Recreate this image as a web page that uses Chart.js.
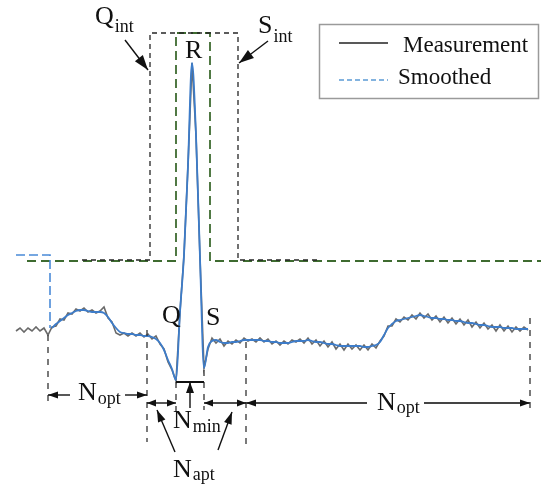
<!DOCTYPE html>
<html><head><meta charset="utf-8">
<script src="https://cdn.jsdelivr.net/npm/chart.js@4.4.1/dist/chart.umd.min.js"></script>
<style>html,body{margin:0;padding:0;background:#fff;}#wrap{width:541px;height:487px;}</style>
</head><body><div id="wrap"><canvas id="c" width="541" height="487"></canvas></div>
<script>
// ---- data (time in samples, amplitude in a.u.) ----
const sampleStart = 16;
const sampleStep = 4;
const measurement = [
  9, 12, 8, 12, 9, 13, 9, 12, 5, 13,
  14, 21, 20, 27, 26, 31, 29, 32, 28, 30,
  27, 29, 33, 22, 18, 7, 5, 7, 4, 7,
  4, 7, 3, 6, 1, 4, -4, -9, -22, -30,
  -41, 28, 85, 175, 277, 205, 82, -28, -9, 2,
  -3, 1, -6, -1, -4, 0, -3, 2, -1, 1,
  -2, 2, -2, 1, -4, -1, -5, -1, -4, 0,
  -2, 1, -3, 2, -4, 0, -6, -1, -7, -2,
  -9, -4, -10, -4, -9, -5, -10, -5, -10, -4,
  -8, -1, 4, 14, 14, 21, 18, 23, 20, 25,
  21, 27, 22, 26, 20, 24, 18, 23, 17, 22,
  16, 21, 15, 20, 13, 18, 12, 17, 11, 15,
  9, 15, 9, 14, 8, 13, 9, 13, 10
];
const smoothed = [
  null, null, null, null, null, null, null, null, null, 12,
  16, 19, 22, 25, 27, 29, 30, 30, 29, 28,
  28, 28, 27, 23, 17, 12, 8, 7, 6, 6,
  5, 5, 4, 4, 3, 1, -3, -10, -20, -29,
  -40, 28, 85, 175, 277, 205, 82, -28, -7, -1,
  0, -2, -3, -3, -2, -2, -1, 0, 0, 0,
  0, 0, -1, -1, -2, -2, -3, -3, -3, -2,
  -1, -1, -1, 0, -1, -2, -2, -3, -4, -4,
  -5, -6, -6, -6, -6, -6, -6, -7, -7, -6,
  -5, -2, 5, 12, 16, 19, 20, 21, 22, 23,
  24, 25, 24, 23, 22, 22, 21, 21, 20, 20,
  19, 19, 18, 17, 17, 16, 15, 15, 14, 13,
  13, 13, 12, 12, 12, 11, 11, 11, 11
];
const smoothedInitTimes = [16, 50, 50];
const smoothedInitValues = [85, 85, 12];
const qsWindowTimes = [82, 150, 150, 238, 238, 320];
const qsWindowValues = [80, 80, 307, 307, 80, 80];
const rWindowTimes = [27, 176, 176, 210, 210, 541];
const rWindowValues = [79, 79, 307, 307, 79, 79];
const seriesLabels = ['Measurement', 'Smoothed'];

// ---- build points ----
const sampleTimes = measurement.map((_, i) => sampleStart + i * sampleStep);
const pts = (ts, vs) => ts.map((t, i) => ({x: t, y: vs[i]}));

// ---- annotation layout (data coords: time, amplitude) ----
const annot = {
  markers: [[48, 5, -62], [147, 10, -102], [176, -42, -75], [204, -30, -70], [246, -2, -107], [530, 22, -70]],
  minBar: [176, 204, -42],
  arrows: [
    {from: [125, 300], to: [148, 270], len: 15, wid: 10},
    {from: [268, 299], to: [239, 277], len: 15, wid: 10},
    {from: [190, -68], to: [190, -42], len: 11, wid: 8},
    {from: [70, -55], to: [48, -55], len: 10, wid: 7},
    {from: [125, -55], to: [147, -55], len: 10, wid: 7},
    {from: [147, -63], to: [176, -63], len: 9, wid: 7, both: true},
    {from: [204, -63], to: [246, -63], len: 9, wid: 7, both: true},
    {from: [367, -63], to: [246, -63], len: 10, wid: 7, color: '#444', width: 2},
    {from: [424, -63], to: [530, -63], len: 10, wid: 7, color: '#444', width: 2},
    {from: [175, -112], to: [157, -70], len: 12, wid: 8},
    {from: [218, -110], to: [232, -72], len: 12, wid: 8}
  ],
  labels: [
    {main: 'Q', sub: 'int', t: 95, a: 316, sa: 308},
    {main: 'S', sub: 'int', t: 258, a: 307, sa: 298},
    {main: 'R', sub: '', t: 185, a: 282, sa: 282},
    {main: 'Q', sub: '', t: 162, a: 17, sa: 17},
    {main: 'S', sub: '', t: 206, a: 15, sa: 15},
    {main: 'N', sub: 'opt', t: 78, a: -60, sa: -64},
    {main: 'N', sub: 'opt', t: 377, a: -70, sa: -73},
    {main: 'N', sub: 'min', t: 173, a: -88, sa: -92},
    {main: 'N', sub: 'apt', t: 173, a: -137, sa: -140}
  ]
};

const FONT = '"Liberation Serif", "Times New Roman", serif';

function head(ctx, x1, y1, x2, y2, len, wid) {
  const ang = Math.atan2(y2 - y1, x2 - x1);
  const c = Math.cos(ang), s = Math.sin(ang);
  ctx.beginPath();
  ctx.moveTo(x2, y2);
  ctx.lineTo(x2 - len * c + wid / 2 * s, y2 - len * s - wid / 2 * c);
  ctx.lineTo(x2 - len * c - wid / 2 * s, y2 - len * s + wid / 2 * c);
  ctx.closePath();
  ctx.fill();
}

const annotPlugin = {
  id: 'annot',
  afterDatasetsDraw(chart) {
    const ctx = chart.ctx, xs = chart.scales.x, ys = chart.scales.y;
    const px = t => xs.getPixelForValue(t), py = a => ys.getPixelForValue(a);
    ctx.save();
    ctx.strokeStyle = '#333'; ctx.lineWidth = 1.3; ctx.setLineDash([6, 6]);
    annot.markers.forEach(([t, a1, a2]) => {
      ctx.beginPath(); ctx.moveTo(px(t), py(a1)); ctx.lineTo(px(t), py(a2)); ctx.stroke();
    });
    ctx.setLineDash([]);
    ctx.strokeStyle = '#111'; ctx.lineWidth = 2;
    ctx.beginPath(); ctx.moveTo(px(annot.minBar[0]), py(annot.minBar[2])); ctx.lineTo(px(annot.minBar[1]), py(annot.minBar[2])); ctx.stroke();
    annot.arrows.forEach(ar => {
      const x1 = px(ar.from[0]), y1 = py(ar.from[1]), x2 = px(ar.to[0]), y2 = py(ar.to[1]);
      ctx.strokeStyle = ar.color || '#111';
      ctx.lineWidth = ar.width || 1.4;
      ctx.beginPath(); ctx.moveTo(x1, y1); ctx.lineTo(x2, y2); ctx.stroke();
      ctx.fillStyle = '#111';
      head(ctx, x1, y1, x2, y2, ar.len, ar.wid);
      if (ar.both) head(ctx, x2, y2, x1, y1, ar.len, ar.wid);
    });
    ctx.fillStyle = '#111'; ctx.textAlign = 'left'; ctx.textBaseline = 'alphabetic';
    annot.labels.forEach(l => {
      ctx.font = '26px ' + FONT;
      const x = px(l.t);
      ctx.fillText(l.main, x, py(l.a));
      if (l.sub) {
        const w = ctx.measureText(l.main).width;
        ctx.font = '18px ' + FONT;
        ctx.fillText(l.sub, x + w + 1, py(l.sa));
      }
    });
    ctx.restore();
  },
  afterDraw(chart) {
    const ctx = chart.ctx;
    const ds = chart.data.datasets;
    ctx.save();
    ctx.fillStyle = '#fff';
    ctx.fillRect(319, 24, 220, 75);
    ctx.strokeStyle = '#9a9a9a'; ctx.lineWidth = 1.5;
    ctx.strokeRect(319.5, 24.5, 219, 74);
    const entries = [
      {label: ds[1].label, color: '#222', dash: [], y: 43, tx: 403, ty: 52},
      {label: ds[0].label, color: '#5b9bd5', dash: [5, 3], y: 80, tx: 398, ty: 84}
    ];
    entries.forEach(e => {
      ctx.strokeStyle = e.color; ctx.lineWidth = 1.6; ctx.setLineDash(e.dash);
      ctx.beginPath(); ctx.moveTo(339, e.y); ctx.lineTo(388, e.y); ctx.stroke();
      ctx.setLineDash([]);
      ctx.fillStyle = '#111'; ctx.font = '23px ' + FONT; ctx.textAlign = 'left';
      ctx.fillText(e.label, e.tx, e.ty);
    });
    ctx.restore();
  }
};

new Chart(document.getElementById('c'), {
  type: 'line',
  data: {
    datasets: [
      {label: seriesLabels[1], data: pts(sampleTimes, smoothed), borderColor: '#3d7cc9', borderWidth: 1.8,
       pointRadius: 0, cubicInterpolationMode: 'monotone', order: 0, spanGaps: false},
      {label: seriesLabels[0], data: pts(sampleTimes, measurement), borderColor: '#6a6a6a', borderWidth: 1.6,
       pointRadius: 0, tension: 0, order: 1},
      {label: 'init', data: pts(smoothedInitTimes, smoothedInitValues), borderColor: '#4a8ad8', borderWidth: 1.6,
       borderDash: [9, 4], pointRadius: 0, tension: 0, order: 0},
      {label: 'QS window', data: pts(qsWindowTimes, qsWindowValues), borderColor: '#262626', borderWidth: 1.3,
       borderDash: [5, 4], pointRadius: 0, tension: 0, order: 2},
      {label: 'R window', data: pts(rWindowTimes, rWindowValues), borderColor: '#3e6b30', borderWidth: 1.8,
       borderDash: [9, 5], pointRadius: 0, tension: 0, order: 3}
    ]
  },
  options: {
    responsive: false, animation: false, clip: false,
    layout: {padding: 0},
    plugins: {legend: {display: false}, tooltip: {enabled: false}},
    scales: {
      x: {type: 'linear', min: 0, max: 541, display: false},
      y: {type: 'linear', min: -147, max: 340, display: false}
    }
  },
  plugins: [annotPlugin]
});
</script>
</body></html>
